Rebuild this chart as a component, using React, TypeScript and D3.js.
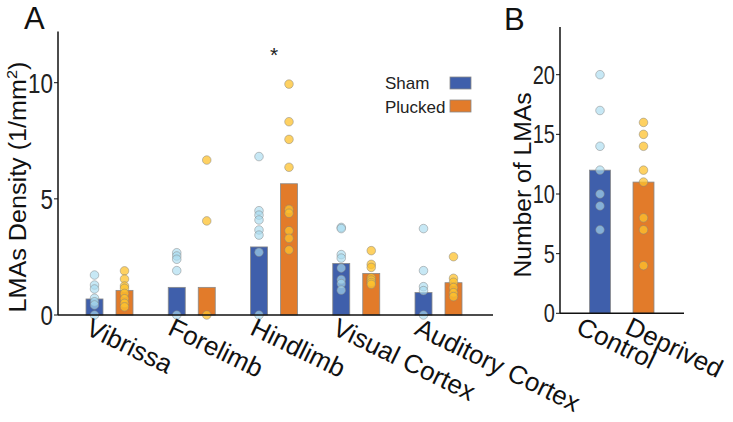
import React from "react";
import * as d3 from "d3";

const regions = ["Vibrissa", "Forelimb", "Hindlimb", "Visual Cortex", "Auditory Cortex"];
const shamMeans = [0.69, 1.19, 2.93, 2.22, 0.97];
const pluckedMeans = [1.06, 1.19, 5.65, 1.79, 1.39];
const shamPoints = [
  [1.72, 1.29, 1.12, 0.72, 0.57, 0.43, 0],
  [2.68, 2.54, 2.4, 1.91, 0],
  [6.82, 4.49, 4.3, 4.09, 3.66, 3.44, 2.7, 0],
  [3.77, 3.72, 2.6, 2.45, 2.02, 1.53, 1.35, 1.07],
  [3.72, 1.91, 1.22, 1.05, 0],
];
const pluckedPoints = [
  [1.9, 1.55, 1.25, 1.15, 0.93, 0.7, 0.5, 0.35],
  [6.67, 4.05, 0],
  [9.94, 8.32, 7.56, 6.36, 4.55, 4.38, 3.63, 3.3, 2.8],
  [2.77, 2.18, 2.05, 1.6, 1.5, 1.4, 1.32],
  [2.51, 1.58, 1.41, 1.18, 0.96, 0.79],
];
const ticksA = [0, 5, 10];

const groupsB = ["Control", "Deprived"];
const meansB = [12, 11];
const pointsB = [
  [20, 17, 14, 12, 10, 9, 7],
  [16, 15, 14, 12, 11, 8, 7, 4],
];
const ticksB = [0, 5, 10, 15, 20];

const BLUE = "#3f5fab";
const ORANGE = "#e27b2a";
const LBLUE = "#a9dcf0";
const YELLOW = "#fdc22e";
const FONT = "Liberation Sans, Arial, sans-serif";

export default function App() {
  const xA = d3.scalePoint<string>().domain(regions).range([109.5, 438.5]);
  const yA = d3.scaleLinear().domain([0, 12.2]).range([315, 315 - 12.2 * 23.23]);
  const xB = d3.scalePoint<string>().domain(groupsB).range([600, 643.5]);
  const xBLabel = d3.scalePoint<string>().domain(groupsB).range([583, 632]);
  const yB = d3.scaleLinear().domain([0, 24]).range([313.3, 313.3 - 24 * 11.93]);
  const off = 15;
  const bwA = 17;
  const bwB = 21;
  const r = 4.3;
  const sx = 0.8;
  const rot = 26;
  const lf = 26;

  const dot = (cx: number, cy: number, fill: string, key: string, op: number) => (
    <circle key={key} cx={cx} cy={cy} r={r} fill={fill} fillOpacity={op} stroke="#808080" strokeOpacity={0.6} strokeWidth={0.8} />
  );

  return (
    <svg width={733} height={422} style={{ position: "absolute", left: 0, top: 0, background: "#fff" }} fontFamily={FONT}>
      {/* Panel A */}
      <text x={24} y={29} fontSize={31} fill="#111">A</text>
      {regions.map((g, i) => {
        const c = xA(g)!;
        return (
          <g key={g}>
            <rect x={c - off - bwA / 2} y={yA(shamMeans[i])} width={bwA} height={yA(0) - yA(shamMeans[i])} fill={BLUE} stroke="#8a8a8a" strokeWidth={0.8} />
            <rect x={c + off - bwA / 2} y={yA(pluckedMeans[i])} width={bwA} height={yA(0) - yA(pluckedMeans[i])} fill={ORANGE} stroke="#8a8a8a" strokeWidth={0.8} />
          </g>
        );
      })}
      {regions.map((g, i) => {
        const c = xA(g)!;
        return (
          <g key={g + "p"}>
            {shamPoints[i].map((v, j) => dot(c - off, yA(v), LBLUE, `s${j}`, 0.65))}
            {pluckedPoints[i].map((v, j) => dot(c + off, yA(v), YELLOW, `p${j}`, 0.75))}
          </g>
        );
      })}
      <line x1={58} x2={58} y1={yA.range()[1]} y2={yA(0)} stroke="#111" strokeWidth={1.5} />
      <line x1={58} x2={493} y1={yA(0)} y2={yA(0)} stroke="#111" strokeWidth={1.5} />
      {ticksA.map((t) => (
        <g key={t}>
          <line x1={54} x2={58} y1={yA(t)} y2={yA(t)} stroke="#111" strokeWidth={1} />
          <g transform={`scale(${sx},1)`}>
            <text x={53 / sx} y={yA(t) + 10} fontSize={28} textAnchor="end" fill="#222">{t}</text>
          </g>
        </g>
      ))}
      <text transform={`translate(26,187) rotate(-90)`} fontSize={23} textAnchor="middle" fill="#111" textLength={251} lengthAdjust="spacingAndGlyphs">
        LMAs Density (1/mm<tspan dy={-9} fontSize={15}>2</tspan><tspan dy={9}>)</tspan>
      </text>
      {regions.map((g) => (
        <text key={g + "l"} transform={`translate(${xA(g)! - off - 2},317) rotate(${rot})`} dy="0.72em" fontSize={lf} fill="#111">{g}</text>
      ))}
      <text x={xA("Hindlimb")!} y={62} fontSize={21} textAnchor="middle" fill="#222">*</text>

      {/* Legend */}
      <text x={385} y={89} fontSize={17} fill="#222">Sham</text>
      <rect x={450} y={77} width={21} height={12} fill={BLUE} stroke="#8a8a8a" strokeWidth={0.8} />
      <text x={385} y={113} fontSize={17} fill="#222">Plucked</text>
      <rect x={450} y={100} width={21} height={12} fill={ORANGE} stroke="#8a8a8a" strokeWidth={0.8} />

      {/* Panel B */}
      <text x={504} y={30} fontSize={31} fill="#111">B</text>
      {groupsB.map((g, i) => (
        <rect key={g} x={xB(g)! - bwB / 2} y={yB(meansB[i])} width={bwB} height={yB(0) - yB(meansB[i])} fill={i === 0 ? BLUE : ORANGE} stroke="#8a8a8a" strokeWidth={0.8} />
      ))}
      {groupsB.map((g, i) => (
        <g key={g + "p"}>
          {pointsB[i].map((v, j) => dot(xB(g)!, yB(v), i === 0 ? LBLUE : YELLOW, `b${j}`, i === 0 ? 0.65 : 0.75))}
        </g>
      ))}
      <line x1={560} x2={560} y1={yB.range()[1]} y2={yB(0)} stroke="#111" strokeWidth={1.5} />
      <line x1={560} x2={684} y1={yB(0)} y2={yB(0)} stroke="#111" strokeWidth={1.5} />
      {ticksB.map((t) => (
        <g key={t}>
          <line x1={556} x2={560} y1={yB(t)} y2={yB(t)} stroke="#111" strokeWidth={1} />
          <g transform={`scale(${sx},1)`}>
            <text x={555 / sx} y={yB(t) + 9} fontSize={25} textAnchor="end" fill="#222">{t}</text>
          </g>
        </g>
      ))}
      <text transform={`translate(531,185) rotate(-90)`} fontSize={23} textAnchor="middle" fill="#111" textLength={185} lengthAdjust="spacingAndGlyphs">
        Number of LMAs
      </text>
      {groupsB.map((g) => (
        <text key={g + "l"} transform={`translate(${xBLabel(g)!},316) rotate(${rot})`} dy="0.72em" fontSize={lf} fill="#111">{g}</text>
      ))}
    </svg>
  );
}
